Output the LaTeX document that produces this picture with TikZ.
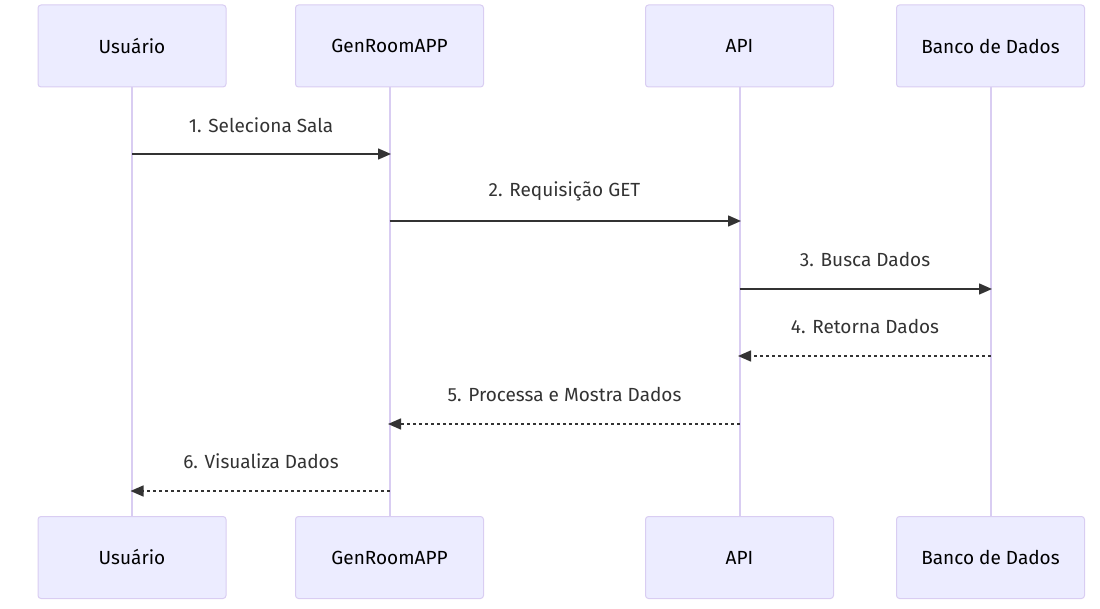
\documentclass[tikz,border=0pt]{standalone}
\usepackage{fontspec}
\setmainfont{Fira Sans}
\usetikzlibrary{arrows.meta}
\definecolor{actfill}{HTML}{ECECFF}
\definecolor{actline}{HTML}{D9CDF2}
\definecolor{msg}{HTML}{333333}
\tikzset{
  actor/.style={draw=actline, fill=actfill, line width=1pt, rounded corners=3pt, minimum width=188pt, minimum height=82pt, inner sep=0pt, font=\fontsize{19}{22}\selectfont, text=black},
  life/.style={draw=actline, line width=2pt},
  call/.style={draw=msg, line width=1.5pt, -{Triangle[length=13pt,width=11pt]}},
  reply/.style={call, dash pattern=on 3pt off 3pt},
  lbl/.style={font=\fontsize{19}{22}\selectfont, text=msg}
}
\begin{document}
\begin{tikzpicture}[x=1pt,y=-1pt]
\useasboundingbox (0,0) rectangle (1100,609);
% lifelines
\foreach \n/\x in {u/132,g/389.5,a/739.5,b/990.5}{
  \coordinate (\n t) at (\x,87);
  \coordinate (\n b) at (\x,517);
}
\draw[life] (ut) -- (ub);
\draw[life] (gt) -- (gb);
\draw[life] (at) -- (ab);
\draw[life] (bt) -- (bb);
% actors
\node[actor] (u1) at (132,46) {Usuário};
\node[actor] (g1) at (389.5,46) {GenRoomAPP};
\node[actor] (a1) at (739.5,46) {API};
\node[actor] (b1) at (990.5,46) {Banco de Dados};
\node[actor] (u2) at (132,557.5) {Usuário};
\node[actor] (g2) at (389.5,557.5) {GenRoomAPP};
\node[actor] (a2) at (739.5,557.5) {API};
\node[actor] (b2) at (990.5,557.5) {Banco de Dados};
% message anchors
\coordinate (u154) at (132,154); \coordinate (g154) at (391,154);
\coordinate (g221) at (389.5,221); \coordinate (a221) at (741,221);
\coordinate (a289) at (739.5,289); \coordinate (b289) at (992,289);
\coordinate (b356) at (990.5,356); \coordinate (a356) at (738,356);
\coordinate (a424) at (739.5,424); \coordinate (g424) at (388,424);
\coordinate (g491) at (389.5,491); \coordinate (u491) at (130.5,491);
\draw[call] (u154) -- (g154);
\draw[call] (g221) -- (a221);
\draw[call] (a289) -- (b289);
\draw[reply] (b356) -- (a356);
\draw[reply] (a424) -- (g424);
\draw[reply] (g491) -- (u491);
% labels
\node[lbl] (l1) at (261,125) {1. Seleciona Sala};
\node[lbl] (l2) at (564.5,191) {2. Requisição GET};
\node[lbl] (l3) at (865,259) {3. Busca Dados};
\node[lbl] (l4) at (865,326) {4. Retorna Dados};
\node[lbl] (l5) at (564.5,394) {5. Processa e Mostra Dados};
\node[lbl] (l6) at (261,461) {6. Visualiza Dados};
\end{tikzpicture}
\end{document}
